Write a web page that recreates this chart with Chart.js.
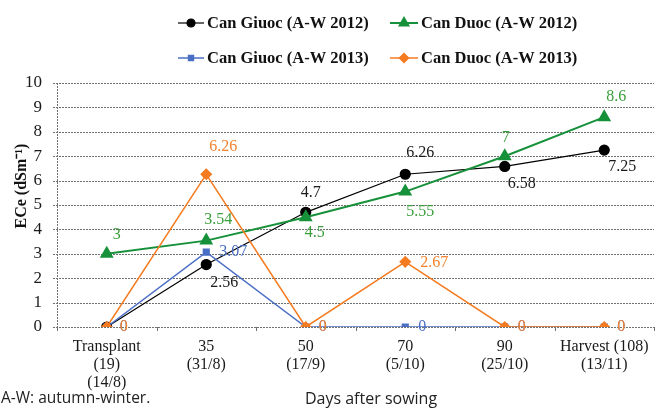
<!DOCTYPE html>
<html>
<head>
<meta charset="utf-8">
<script src="https://cdn.jsdelivr.net/npm/chart.js@4.4.1/dist/chart.umd.min.js"></script>
<style>
  html, body { margin: 0; padding: 0; background: #fff; }
  #wrap { width: 662px; height: 408px; position: relative; }
</style>
</head>
<body>
<div id="wrap"><canvas id="ece-chart"></canvas></div>
<script>
// Ngay sau gieo (nhan truc x, nhieu dong)
const days = [
    ['Transplant', '(19)', '(14/8)'],
    ['35', '(31/8)'],
    ['50', '(17/9)'],
    ['70', '(5/10)'],
    ['90', '(25/10)'],
    ['Harvest (108)', '(13/11)']
];
const seriesNames = ['Can Giuoc (A-W 2012)', 'Can Duoc (A-W 2012)', 'Can Giuoc (A-W 2013)', 'Can Duoc (A-W 2013)'];
const canGiuoc2012 = [0, 2.56, 4.7, 6.26, 6.58, 7.25];
const canDuoc2012 = [3, 3.54, 4.5, 5.55, 7, 8.6];
const canGiuoc2013 = [0, 3.07, 0, 0, 0, 0];
const canDuoc2013 = [0, 6.26, 0, 2.67, 0, 0];
const yMin = 0, yMax = 10, yStep = 1;

const SERIF = '"Liberation Serif", "Times New Roman", serif';
const SANS = '"Open Sans", "Noto Sans", sans-serif';
const GRID = '#707070';

// Luoi cham + vach chia, ve tu cac scale cua Chart.js
const dottedGrid = {
    id: 'dottedGrid',
    beforeDatasetsDraw(chart) {
        const ctx = chart.ctx;
        const xs = chart.scales.x, ys = chart.scales.y;
        const left = xs.left, right = xs.right;
        const top = ys.top, bottom = ys.bottom;
        ctx.save();
        ctx.lineWidth = 1;
        ys.ticks.forEach(t => {
            const y = Math.round(ys.getPixelForValue(t.value)) + 0.5;
            ctx.strokeStyle = GRID;
            ctx.setLineDash([2, 1]);
            ctx.beginPath();
            ctx.moveTo(left - 4, y);
            ctx.lineTo(right, y);
            ctx.stroke();
        });
        const ax = Math.round(left) + 0.5;
        ctx.beginPath();
        ctx.moveTo(ax, top);
        ctx.lineTo(ax, bottom);
        ctx.stroke();

        ctx.setLineDash([]);
        const n = xs.ticks.length;
        for (let i = 0; i <= n; i++) {
            let x;
            if (i === 0) x = left;
            else if (i === n) x = right;
            else x = (xs.getPixelForTick(i - 1) + xs.getPixelForTick(i)) / 2;
            x = Math.round(x) + 0.5;
            ctx.beginPath();
            ctx.moveTo(x, bottom);
            ctx.lineTo(x, bottom + 4);
            ctx.stroke();
        }
        ctx.restore();
    }
};

// Nhan gia tri tren tung diem (offset tinh theo pixel, khong phai du lieu)
const pointLabels = {
    id: 'pointLabels',
    afterDatasetsDraw(chart) {
        const ctx = chart.ctx;
        ctx.save();
        ctx.font = '16px ' + SERIF;
        ctx.textBaseline = 'middle';
        chart.data.datasets.forEach((ds, i) => {
            const meta = chart.getDatasetMeta(i);
            (ds.labelOffsets || []).forEach((off, j) => {
                if (!off) return;
                const pt = meta.data[j];
                ctx.fillStyle = ds.labelColor;
                ctx.textAlign = off[2] || 'center';
                ctx.fillText(String(ds.data[j]), pt.x + off[0], pt.y + off[1]);
            });
        });
        ctx.restore();
    }
};

// Chu giai 2x2 nhu ban goc
const legendGrid = {
    id: 'legendGrid',
    afterDraw(chart) {
        const ctx = chart.ctx;
        const cells = [[178, 23, 26], [390, 23, 28], [178, 58, 26], [390, 58, 28]];
        ctx.save();
        chart.data.datasets.forEach((ds, i) => {
            const [x, y, len] = cells[i];
            ctx.strokeStyle = ds.borderColor;
            ctx.lineWidth = ds.borderWidth;
            ctx.beginPath();
            ctx.moveTo(x, y);
            ctx.lineTo(x + len, y);
            ctx.stroke();
            ctx.fillStyle = ds.pointBackgroundColor;
            ctx.strokeStyle = ds.pointBackgroundColor;
            Chart.helpers.drawPoint(ctx, {
                pointStyle: ds.pointStyle,
                radius: ds.legendRadius,
                borderWidth: 1,
                rotation: 0
            }, x + len / 2, y);
            ctx.fillStyle = '#111';
            ctx.font = 'bold 16.5px ' + SERIF;
            ctx.textAlign = 'left';
            ctx.textBaseline = 'middle';
            ctx.fillText(ds.label, x + len + 3, y + 1);
        });
        ctx.restore();
    }
};

// Tieu de truc va ghi chu
const extraText = {
    id: 'extraText',
    afterDraw(chart) {
        const ctx = chart.ctx;
        ctx.save();
        ctx.fillStyle = '#111';
        ctx.font = 'bold 16px ' + SERIF;
        ctx.textAlign = 'center';
        ctx.textBaseline = 'middle';
        ctx.translate(22, 186);
        ctx.rotate(-Math.PI / 2);
        ctx.fillText('ECe (dSm\u207B\u00B9)', 0, 0);
        ctx.restore();

        ctx.save();
        ctx.fillStyle = '#222';
        ctx.textBaseline = 'middle';
        ctx.textAlign = 'left';
        ctx.font = '15.5px ' + SANS;
        ctx.fillText('A-W: autumn-winter.', 1, 399);
        ctx.textAlign = 'center';
        ctx.font = '16px ' + SANS;
        ctx.fillText('Days after sowing', 371, 399);
        ctx.restore();
    }
};

const ctx = document.getElementById('ece-chart').getContext('2d');
new Chart(ctx, {
    type: 'line',
    data: {
        labels: days,
        datasets: [
            {
                label: seriesNames[0],
                data: canGiuoc2012,
                borderColor: '#000000',
                backgroundColor: '#000000',
                pointBackgroundColor: '#000000',
                pointBorderColor: '#000000',
                borderWidth: 1.2,
                pointStyle: 'circle',
                pointRadius: 5,
                legendRadius: 4,
                order: 4,
                labelColor: '#1a1a1a',
                labelOffsets: [null, [18, 18], [5, -20], [15, -21], [17, 17], [18, 17]]
            },
            {
                label: seriesNames[1],
                data: canDuoc2012,
                borderColor: '#16913a',
                backgroundColor: '#16913a',
                pointBackgroundColor: '#16913a',
                pointBorderColor: '#16913a',
                borderWidth: 2,
                pointStyle: 'triangle',
                pointRadius: 6,
                legendRadius: 5,
                order: 3,
                labelColor: '#3a9e3a',
                labelOffsets: [[10, -19], [12, -21], [9, 16], [15, 20], [1, -18], [12, -20]]
            },
            {
                label: seriesNames[2],
                data: canGiuoc2013,
                borderColor: '#4a6fc4',
                backgroundColor: '#4a6fc4',
                pointBackgroundColor: '#4a6fc4',
                pointBorderColor: '#4a6fc4',
                borderWidth: 1.5,
                pointStyle: 'rect',
                pointRadius: 4,
                legendRadius: 3.5,
                order: 2,
                labelColor: '#4a6fc4',
                labelOffsets: [[13, 0, 'left'], [13, 0, 'left'], [13, 0, 'left'], [13, 0, 'left'], [13, 0, 'left'], [13, 0, 'left']]
            },
            {
                label: seriesNames[3],
                data: canDuoc2013,
                borderColor: '#f47b20',
                backgroundColor: '#f47b20',
                pointBackgroundColor: '#f47b20',
                pointBorderColor: '#f47b20',
                borderWidth: 1.5,
                pointStyle: 'rectRot',
                pointRadius: 5,
                legendRadius: 4.5,
                order: 1,
                labelColor: '#f5822e',
                labelOffsets: [[13, 0, 'left'], [17, -27], [13, 0, 'left'], [15, 1, 'left'], [13, 0, 'left'], [13, 0, 'left']]
            }
        ]
    },
    options: {
        responsive: true,
        maintainAspectRatio: false,
        animation: false,
        layout: { padding: { top: 83, right: 4, left: 0, bottom: 0 } },
        plugins: {
            legend: { display: false },
            tooltip: { enabled: false }
        },
        scales: {
            x: {
                offset: true,
                afterFit: (scale) => { scale.height = 81; },
                grid: { display: false },
                border: { display: false },
                ticks: {
                    maxRotation: 0,
                    autoSkip: false,
                    padding: 3,
                    color: '#1a1a1a',
                    font: { family: SERIF, size: 16, lineHeight: 1.12 }
                }
            },
            y: {
                min: yMin,
                max: yMax,
                afterFit: (scale) => { scale.width = 57; },
                grid: { display: false },
                border: { display: false },
                ticks: {
                    stepSize: yStep,
                    padding: 7,
                    color: '#1a1a1a',
                    font: { family: SERIF, size: 17 }
                }
            }
        }
    },
    plugins: [dottedGrid, pointLabels, legendGrid, extraText]
});
</script>
</body>
</html>
